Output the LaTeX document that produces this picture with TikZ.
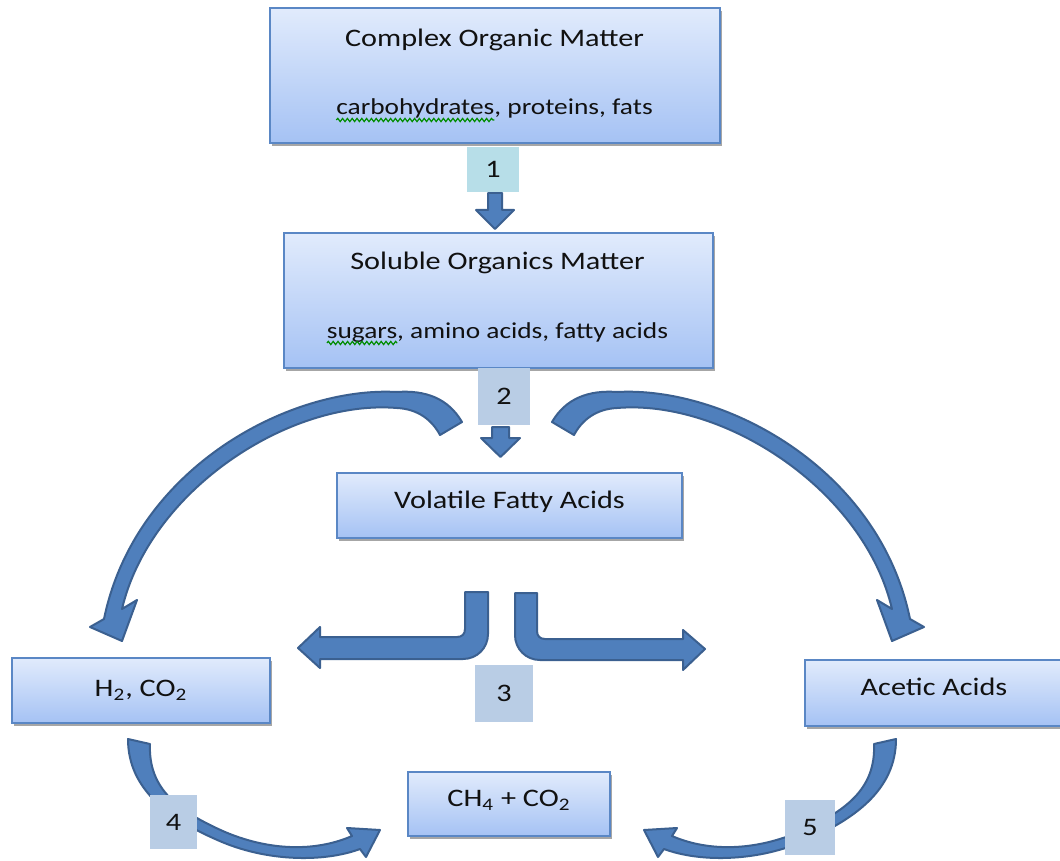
\documentclass[tikz,border=0pt]{standalone}
\usepackage{fontspec}
\setmainfont{Carlito}[FakeStretch=1.2]
\usetikzlibrary{shadows,decorations.pathmorphing}
\definecolor{boxtop}{HTML}{E1EBFC}
\definecolor{boxbot}{HTML}{A5C2F4}
\definecolor{boxline}{HTML}{5A87C5}
\definecolor{labteal}{HTML}{B7DEE8}
\definecolor{labblue}{HTML}{B9CDE5}
\definecolor{arrfill}{HTML}{4F7FBC}
\definecolor{arrline}{HTML}{3B6090}
\definecolor{txtcol}{HTML}{111111}
\newcommand\fsz{\fontsize{12.6}{15}\selectfont}
\newcommand\fsub{\fontsize{11.4}{14}\selectfont}
\newlength\wcarb
\newlength\wsug
\tikzset{
  stage/.style={draw=boxline, line width=0.8pt, top color=boxtop, bottom color=boxbot,
    drop shadow={shadow xshift=1pt, shadow yshift=-1.5pt, opacity=0.35, fill=black},
    font=\fsz, text=txtcol, align=center, inner sep=0pt},
  oneline/.style={text height=6pt, text depth=3.5pt},
  txt/.style={font=\fsz, text=txtcol, inner sep=0pt, outer sep=0pt},
  subtxt/.style={font=\fsub, text=txtcol, inner sep=0pt, outer sep=0pt},
  steplabel/.style={fill=#1, draw=none, font=\fsz, text=txtcol, inner sep=0pt},
  blockarrow/.style={fill=arrfill, draw=arrline, line width=1pt, line join=round},
  squiggle/.style={draw=green!55!black, line width=0.6pt, decorate,
    decoration={snake, amplitude=0.8pt, segment length=2.4pt}},
  bigarc/.pic={
    \path[blockarrow] (462,422) .. controls (448,398) and (425,390) .. (397,392)
      .. controls (290,386) and (135,468) .. (104,619) -- (90,627) -- (122,641)
      -- (137,600) -- (122,609) .. controls (150,490) and (290,399) .. (397,408)
      .. controls (418,409) and (432,420) .. (440,435) -- cycle;
  },
  curlarrow/.pic={
    \path[blockarrow] (128,739) -- (150,744) .. controls (148,790) and (180,812) .. (225,832)
      .. controls (275,853) and (320,850) .. (352,836) -- (347,828) -- (380,830)
      -- (366,857) -- (360,849) .. controls (325,862) and (270,862) .. (222,842)
      .. controls (170,820) and (128,790) .. (128,739) -- cycle;
  }
}
\begin{document}%
\settowidth{\wcarb}{\fsub carbohydrates}%
\settowidth{\wsug}{\fsub sugars}%
\begin{tikzpicture}[x=0.5pt,y=-0.5pt]
\path[fill=white] (0,0) rectangle (1060,861);
\useasboundingbox (0,0) rectangle (1060,861);

% straight down arrows
\path[blockarrow] (488,193) -- (502,193) -- (502,210) -- (514,210) -- (495,229) -- (476,210) -- (488,210) -- cycle;
\path[blockarrow] (492,427) -- (509,427) -- (509,438) -- (520,438) -- (500.5,457) -- (481,438) -- (492,438) -- cycle;

% big curved arrows
\pic at (0,0) {bigarc};
\pic[xscale=-1] at (1014,0) {bigarc};

% L-shaped arrows (3)
\path[blockarrow] (465,592) -- (488,592) -- (488,634) .. controls (488,648) and (477,659) .. (463,659)
  -- (320,659) -- (320,668) -- (298,648) -- (320,627) -- (320,637) -- (457,637)
  .. controls (462,637) and (465,634) .. (465,629) -- cycle;
\path[blockarrow] (515,593) -- (537,593) -- (537,631) .. controls (537,636) and (540,639) .. (545,639)
  -- (683,639) -- (683,630) -- (705,649) -- (683,670) -- (683,660) -- (540,660)
  .. controls (526,660) and (515,649) .. (515,635) -- cycle;

% bottom curled arrows (4, 5)
\pic at (0,0) {curlarrow};
\pic[xscale=-1] at (1024,0) {curlarrow};

% boxes
\node[stage, minimum width=225pt, minimum height=67.5pt] (com) at (495,75.5) {};
\node[txt, anchor=base] (comt) at (494.5,47) {Complex Organic Matter};
\node[subtxt, anchor=base] (coms) at (494.5,115) {carbohydrates, proteins, fats};
\draw[squiggle] ([yshift=-2.5pt]coms.base west) -- ([yshift=-2.5pt,xshift=\wcarb]coms.base west);

\node[stage, minimum width=214.5pt, minimum height=67.5pt] (sol) at (498.5,300.5) {};
\node[txt, anchor=base] (solt) at (497.5,270) {Soluble Organics Matter};
\node[subtxt, anchor=base] (sols) at (497.5,338) {sugars, amino acids, fatty acids};
\draw[squiggle] ([yshift=-2.5pt]sols.base west) -- ([yshift=-2.5pt,xshift=\wsug]sols.base west);

\node[stage, oneline, minimum width=172.5pt, minimum height=32.5pt] (vfa) at (509.5,505.5) {Volatile Fatty Acids};
\node[stage, minimum width=129pt, minimum height=32.5pt] (h2) at (141,690.5) {H\textsubscript{2}, CO\textsubscript{2}};
\node[stage, oneline, minimum width=129pt, minimum height=33pt] (ace) at (934,693) {Acetic Acids};
\node[stage, oneline, minimum width=101pt, minimum height=32pt] (ch4) at (509,804) {CH\textsubscript{4} + CO\textsubscript{2}};

% step labels
\node[steplabel=labteal, minimum width=26pt, minimum height=22.5pt] (l1) at (493,169.5) {1};
\node[steplabel=labblue, minimum width=26pt, minimum height=28.5pt] (l2) at (504,396.5) {2};
\node[steplabel=labblue, minimum width=29pt, minimum height=28.5pt] (l3) at (504,693.5) {3};
\node[steplabel=labblue, minimum width=23.5pt, minimum height=27pt] (l4) at (173.5,822) {4};
\node[steplabel=labblue, minimum width=25pt, minimum height=27.5pt] (l5) at (810,827.5) {5};
\end{tikzpicture}%
\end{document}
